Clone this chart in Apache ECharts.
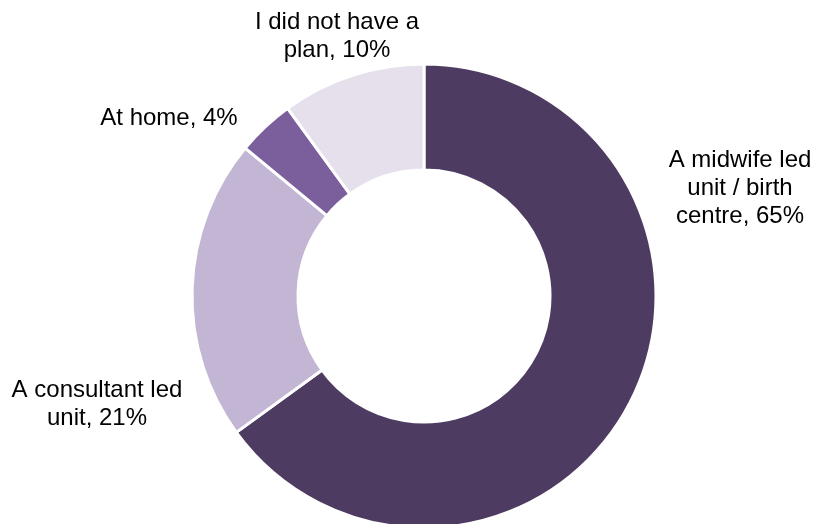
<!DOCTYPE html>
<html>
<head>
<meta charset="utf-8">
<script src="https://cdn.jsdelivr.net/npm/echarts@6/dist/echarts.min.js"></script>
<style>
  html, body { margin: 0; padding: 0; background: #ffffff; }
  #chart { width: 814px; height: 524px; }
</style>
</head>
<body>
<div id="chart"></div>
<script>
// Planned place of birth
const categories = [
  'A midwife led unit / birth centre',
  'A consultant led unit',
  'At home',
  'I did not have a plan'
];
const shares = [65, 21, 4, 10];
const labelTexts = [
  'A midwife led\nunit / birth\ncentre, 65%',
  'A consultant led\nunit, 21%',
  'At home, 4%',
  'I did not have a\nplan, 10%'
];
const colors = ['#4e3b62', '#c2b6d4', '#7b5e9c', '#e6e0ed'];

// Where each category's text block sits (centre of block), in px
const labelAnchors = [
  [740, 188],
  [97, 404],
  [169, 118],
  [337, 36]
];

const chart = echarts.init(document.getElementById('chart'), null, { renderer: 'canvas' });

chart.setOption({
  animation: false,
  backgroundColor: '#ffffff',
  series: [{
    type: 'pie',
    center: [424, 296],
    radius: [126, 232],
    startAngle: 90,
    clockwise: true,
    avoidLabelOverlap: false,
    itemStyle: { borderColor: '#ffffff', borderWidth: 3 },
    label: {
      show: true,
      position: 'outside',
      formatter: (p) => labelTexts[p.dataIndex],
      fontFamily: 'Liberation Sans, Arial, sans-serif',
      fontSize: 24,
      lineHeight: 28,
      color: '#000000',
      align: 'center'
    },
    labelLine: { show: false },
    labelLayout: (params) => ({
      x: labelAnchors[params.dataIndex][0],
      y: labelAnchors[params.dataIndex][1],
      align: 'center',
      verticalAlign: 'middle'
    }),
    data: categories.map((name, i) => ({
      name,
      value: shares[i],
      itemStyle: { color: colors[i] }
    }))
  }]
});
</script>
</body>
</html>
